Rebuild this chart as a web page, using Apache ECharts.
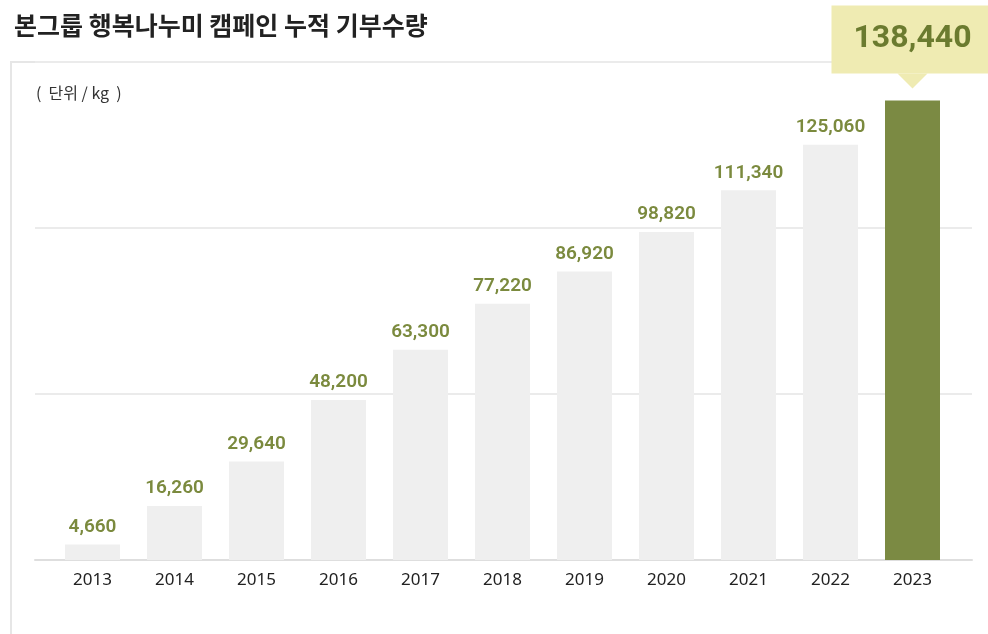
<!DOCTYPE html>
<html>
<head>
<meta charset="utf-8">
<script src="https://cdn.jsdelivr.net/npm/echarts@6/dist/echarts.min.js"></script>
<style>
  html, body { margin: 0; padding: 0; background: #fff; }
  #chart { width: 988px; height: 634px; }
</style>
</head>
<body>
<div id="chart"></div>
<script>
  // data
  var years = ['2013', '2014', '2015', '2016', '2017', '2018', '2019', '2020', '2021', '2022', '2023'];
  var amounts = [4660, 16260, 29640, 48200, 63300, 77220, 86920, 98820, 111340, 125060, 138440];
  var yTicks = [0, 50000, 100000, 150000];

  var grayBar = '#efefef';
  var greenBar = '#7b8a43';
  var labelGreen = '#7b8a3e';

  var lastIdx = years.length - 1;
  var barData = amounts.map(function (v, i) {
    if (i !== lastIdx) return v;
    return {
      value: v,
      itemStyle: { color: greenBar },
      label: {
        distance: 27,
        fontSize: 32,
        lineHeight: 40,
        color: '#6b7b2f',
        fontWeight: 'bold',
        backgroundColor: '#efebb2',
        padding: [14, 22, 14, 22]
      }
    };
  });

  var myChart = echarts.init(document.getElementById('chart'));
  var option = {
    animation: false,
    title: {
      text: '본그룹 행복나누미 캠페인 누적 기부수량',
      left: 9,
      top: 8,
      textStyle: { fontFamily: 'Noto Sans CJK KR', fontSize: 25, fontWeight: 'bold', color: '#222' }
    },
    graphic: [
      {
        type: 'rect',
        shape: { x: 11, y: 62, width: 1000, height: 700 },
        style: { fill: 'none', stroke: '#e6e6e6', lineWidth: 2 },
        z: -10
      },
      {
        type: 'text',
        left: 36,
        top: 85,
        style: { text: '(  단위 / kg  )', fontFamily: 'Noto Sans CJK KR', fontSize: 16, fill: '#333' }
      }
    ],
    grid: [
      { left: 35, right: 16, top: 62, bottom: 74 },
      { left: 51.5, right: 34.5, top: 62, bottom: 74 }
    ],
    xAxis: [
      {
        gridIndex: 0, type: 'category', data: [''],
        axisLine: { show: true, lineStyle: { color: '#dedede', width: 2 } },
        axisTick: { show: false }, axisLabel: { show: false }
      },
      {
        gridIndex: 1, type: 'category', data: years,
        axisLine: { show: false }, axisTick: { show: false },
        axisLabel: { margin: 12, fontFamily: 'Noto Sans', fontSize: 17, color: '#222' }
      }
    ],
    yAxis: [
      {
        gridIndex: 0, type: 'value', min: yTicks[0], max: yTicks[yTicks.length - 1], interval: yTicks[1] - yTicks[0],
        axisLabel: { show: false }, axisLine: { show: false }, axisTick: { show: false },
        splitLine: { show: true, lineStyle: { color: '#ebebeb', width: 2 } }
      },
      {
        gridIndex: 1, type: 'value', min: yTicks[0], max: yTicks[yTicks.length - 1], interval: yTicks[1] - yTicks[0],
        show: false, splitLine: { show: false }
      }
    ],
    series: [
      {
        type: 'bar',
        xAxisIndex: 1,
        yAxisIndex: 1,
        data: barData,
        barWidth: 55,
        itemStyle: { color: grayBar },
        label: {
          show: true,
          position: 'top',
          distance: 8,
          fontFamily: 'Roboto',
          fontSize: 19,
          fontWeight: 600,
          color: labelGreen,
          formatter: function (p) { return p.value.toLocaleString('en-US'); }
        },
        markPoint: {
          silent: true,
          symbol: 'triangle',
          symbolSize: [30, 15],
          symbolRotate: 180,
          symbolOffset: [0, -19.5],
          itemStyle: { color: '#efebb2' },
          label: { show: false },
          data: [{ coord: [years[lastIdx], amounts[lastIdx]] }]
        }
      }
    ]
  };
  myChart.setOption(option);
</script>
</body>
</html>
